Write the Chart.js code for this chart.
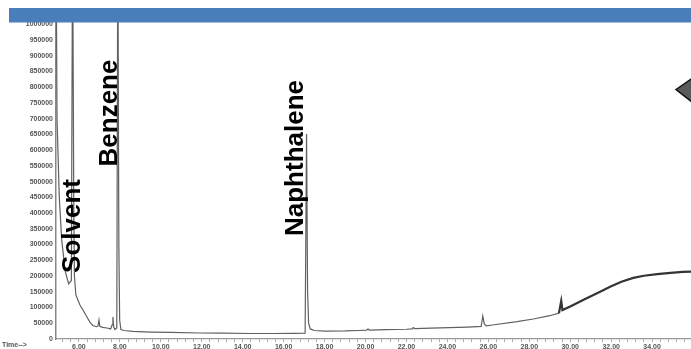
<!DOCTYPE html>
<html>
<head>
<meta charset="utf-8">
<script src="https://cdn.jsdelivr.net/npm/chart.js@4.4.0/dist/chart.umd.min.js"></script>
<style>
  html, body { margin: 0; padding: 0; background: #fff; overflow: hidden; }
  #wrap { width: 691px; height: 349px; overflow: hidden; }
</style>
</head>
<body>
<div id="wrap"><canvas id="chrom" width="691" height="360"></canvas></div>
<script>
const retentionTimes = [
  4.88, 4.93, 5.04, 5.16, 5.33, 5.50, 5.58, 5.63, 5.69, 5.75, 5.78, 5.85, 5.95, 6.05, 6.20,
  6.39, 6.55, 6.68, 6.85, 6.93, 6.98, 7.02, 7.15, 7.37, 7.55, 7.62, 7.66, 7.70, 7.76, 7.85,
  7.90, 7.95, 7.99, 8.05, 8.20, 8.64, 9.50, 10.50, 11.90, 13.00, 14.40, 15.50, 16.50, 17.05,
  17.12, 17.17, 17.22, 17.30, 17.50, 18.00, 19.00, 19.70, 20.05, 20.12, 20.20, 21.00, 22.00,
  22.28, 22.33, 22.40, 23.20, 24.10, 25.00, 25.65, 25.73, 25.80, 25.90, 26.20, 27.40, 28.20,
  29.00, 29.45, 29.56, 29.62, 30.00, 30.63, 31.46, 31.95, 32.50, 33.08, 33.60, 34.25, 34.90,
  35.50, 35.90
];
const abundance = [
  1300000, 700000, 450000, 314000, 215000, 175000, 182000, 185000, 1300000, 400000, 200000, 140000, 124000, 108000, 92000,
  70000, 52000, 43000, 39000, 41000, 60000, 40000, 37000, 35000, 32000, 45000, 70000, 38000, 30000, 35000,
  1300000, 300000, 60000, 30000, 27000, 24000, 22000, 21000, 19000, 18500, 17500, 17500, 18000, 18500,
  651000, 150000, 50000, 32000, 27000, 25000, 25500, 27000, 28000, 32000, 28500, 29500, 31000,
  32000, 36000, 33000, 34500, 36000, 38000, 40000, 73000, 48000, 42000, 44500, 55000, 63500,
  74000, 82000, 121000, 92000, 103000, 124000, 150000, 166000, 182000, 194000, 201000, 206000, 210000,
  213000, 214000
];

// Picos identificados (tempo de retenção e nome)
const peakNames = ['Solvent', 'Benzene', 'Naphthalene'];
const peakTimes = [5.80, 7.90, 17.12];
const peakLabelCenters = [226, 113, 158]; // centro vertical do texto, em pixels

// Ticks dos eixos
const yTickValues = [
  0, 50000, 100000, 150000, 200000, 250000, 300000, 350000, 400000, 450000, 500000,
  550000, 600000, 650000, 700000, 750000, 800000, 850000, 900000, 950000, 1000000
];
const xTickStep = 0.4;
const xMin = 4.88;
const xMax = 35.9;
const yMax = 1007000;

const points = retentionTimes.map((t, i) => ({ x: t, y: abundance[i] }));

// Plugin que desenha a barra azul, os nomes dos picos e a seta
const decorations = {
  id: 'decorations',
  afterDraw(chart) {
    const ctx = chart.ctx;
    const xs = chart.scales.x;
    ctx.save();

    // nomes dos picos, na vertical
    ctx.fillStyle = '#000';
    ctx.font = 'bold 26px "Liberation Sans", Arial, sans-serif';
    ctx.textAlign = 'center';
    ctx.textBaseline = 'alphabetic';
    const offsets = [5, -1, -4];
    peakNames.forEach((name, i) => {
      const px = xs.getPixelForValue(peakTimes[i]) + offsets[i];
      ctx.save();
      ctx.translate(px, peakLabelCenters[i]);
      ctx.rotate(-Math.PI / 2);
      ctx.fillText(name, 0, 0);
      ctx.restore();
    });

    // barra azul no topo
    ctx.fillStyle = '#4a7ebb';
    ctx.fillRect(9, 8, 682, 14.5);

    // seta (losango) na borda direita
    ctx.beginPath();
    ctx.moveTo(676, 89.5);
    ctx.lineTo(692, 78.5);
    ctx.lineTo(692, 102);
    ctx.closePath();
    ctx.fillStyle = '#5a5a5a';
    ctx.fill();
    ctx.strokeStyle = '#111';
    ctx.lineWidth = 1.5;
    ctx.stroke();

    // rótulo do eixo do tempo
    ctx.fillStyle = '#555';
    ctx.font = 'bold 7px "Liberation Sans", Arial, sans-serif';
    ctx.textAlign = 'left';
    ctx.textBaseline = 'top';
    ctx.fillText('Time-->', 2, 342);
    ctx.restore();
  }
};

const chromCtx = document.getElementById('chrom').getContext('2d');
const chromChart = new Chart(chromCtx, {
  type: 'line',
  data: {
    datasets: [{
      data: points,
      borderColor: '#606060',
      borderWidth: 1.2,
      pointRadius: 0,
      tension: 0,
      fill: false,
      segment: {
        borderColor: c => (c.p0.parsed.x > 29 ? '#333' : '#606060'),
        borderWidth: c => (c.p0.parsed.x > 29 ? 2.2 : 1.2)
      }
    }]
  },
  options: {
    responsive: false,
    animation: false,
    layout: { padding: { top: 22, right: 0, left: 0, bottom: 0 } },
    plugins: {
      legend: { display: false },
      tooltip: { enabled: false }
    },
    scales: {
      x: {
        type: 'linear',
        min: xMin,
        max: xMax,
        grid: { display: true, drawOnChartArea: false, drawTicks: true, tickLength: 3, color: '#aaa' },
        border: { display: true, color: '#999', width: 1.2 },
        ticks: {
          stepSize: xTickStep,
          includeBounds: false,
          autoSkip: false,
          maxRotation: 0,
          padding: 1,
          color: '#555',
          font: { size: 7, weight: 'bold', family: '"Liberation Sans", Arial, sans-serif' },
          callback: v => {
            const r = Math.round(v);
            return (Math.abs(v - r) < 1e-6 && r % 2 === 0) ? r.toFixed(2) : '';
          }
        },
        afterFit: s => { s.height = 21; }
      },
      y: {
        min: 0,
        max: yMax,
        grid: { display: false, drawTicks: false },
        border: { display: true, color: '#888', width: 1.5 },
        ticks: {
          autoSkip: false,
          padding: 3,
          color: '#555',
          font: { size: 7, weight: 'bold', family: '"Liberation Sans", Arial, sans-serif' },
          callback: v => String(v)
        },
        afterBuildTicks: s => { s.ticks = yTickValues.map(v => ({ value: v })); },
        afterFit: s => { s.width = 56; }
      }
    }
  },
  plugins: [decorations]
});
</script>
</body>
</html>
